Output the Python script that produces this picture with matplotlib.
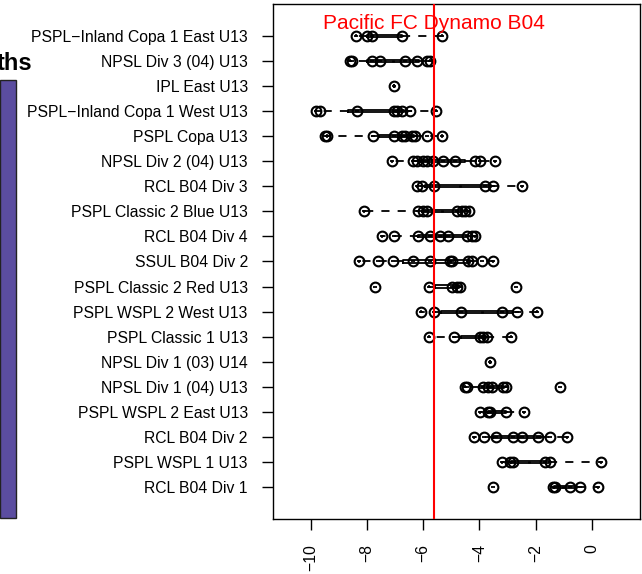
import matplotlib

matplotlib.use("Agg")
import matplotlib.pyplot as plt
from matplotlib.patches import Rectangle

plt.rcParams["font.family"] = ["Liberation Sans", "DejaVu Sans"]

# Leagues, top to bottom as drawn
leagues = [
    "PSPL\u2212Inland Copa 1 East U13",
    "NPSL Div 3 (04) U13",
    "IPL East U13",
    "PSPL\u2212Inland Copa 1 West U13",
    "PSPL Copa U13",
    "NPSL Div 2 (04) U13",
    "RCL B04 Div 3",
    "PSPL Classic 2 Blue U13",
    "RCL B04 Div 4",
    "SSUL B04 Div 2",
    "PSPL Classic 2 Red U13",
    "PSPL WSPL 2 West U13",
    "PSPL Classic 1 U13",
    "NPSL Div 1 (03) U14",
    "NPSL Div 1 (04) U13",
    "PSPL WSPL 2 East U13",
    "RCL B04 Div 2",
    "PSPL WSPL 1 U13",
    "RCL B04 Div 1",
]

# Team ratings per league (same order as leagues)
scores = [
    [-8.39, -8.01, -7.83, -6.76, -5.34],
    [-8.60, -8.52, -7.83, -7.53, -6.64, -6.23, -5.87, -5.75],
    [-7.04],
    [-9.81, -9.67, -8.34, -7.04, -6.94, -6.74, -6.47, -5.55],
    [-9.51, -9.43, -7.77, -7.04, -6.76, -6.64, -6.41, -6.29, -5.87, -5.34],
    [-7.12, -6.35, -6.23, -5.99, -5.87, -5.64, -5.28, -4.86, -4.15, -3.97, -3.44],
    [-6.23, -6.05, -5.61, -3.80, -3.50, -2.49],
    [-8.09, -6.17, -5.99, -5.87, -4.80, -4.63, -4.51, -4.36],
    [-7.47, -7.04, -6.17, -5.75, -5.40, -5.10, -4.45, -4.25, -4.15],
    [-8.27, -7.59, -7.06, -6.35, -5.75, -5.04, -4.98, -4.39, -4.27, -3.91, -3.52],
    [-7.71, -5.78, -4.98, -4.80, -4.69, -2.69],
    [-6.09, -5.61, -4.65, -3.18, -2.67, -1.94],
    [-5.78, -4.89, -3.97, -3.86, -3.74, -2.88],
    [-3.62],
    [-4.51, -4.45, -3.86, -3.68, -3.56, -3.15, -3.05, -1.13],
    [-3.97, -3.68, -3.62, -3.06, -2.41],
    [-4.19, -3.82, -3.41, -2.79, -2.49, -1.90, -1.48, -0.89],
    [-3.20, -2.91, -2.79, -1.66, -1.48, 0.32],
    [-3.50, -1.37, -1.31, -0.77, -0.42, 0.24],
]

team_name = "Pacific FC Dynamo B04"
team_score = -5.63

x_ticks = [-10, -8, -6, -4, -2, 0]

n = len(leagues)
positions = [n - i for i in range(n)]

fig = plt.figure(figsize=(6.42, 5.74), dpi=100)
ax = fig.add_axes([0.425, 0.096, 0.572, 0.897])

ax.boxplot(
    scores,
    positions=positions,
    orientation="horizontal",
    widths=0.09,
    whis=1.5,
    showfliers=False,
    boxprops=dict(color="black", linewidth=1.3),
    whiskerprops=dict(color="black", linewidth=1.3, linestyle=(0, (4.5, 4.5))),
    capprops=dict(color="black", linewidth=1.3),
    capwidths=0.04,
    medianprops=dict(color="black", linewidth=2),
)

for pos, vals in zip(positions, scores):
    ax.plot(vals, [pos] * len(vals), "o", mfc="none", mec="black",
            ms=7, mew=1.5, zorder=3)
    ax.plot(vals, [pos] * len(vals), "_", color="black", ms=3.5, mew=1.3, zorder=3)

ax.axvline(team_score, color="red", linewidth=1.5, zorder=4)
ax.text(team_score, 19.5, team_name, color="red", fontsize=15,
        ha="center", va="center", zorder=5)

ax.set_xlim(-11.35, 1.72)
ax.set_ylim(-0.26, 20.26)
ax.set_yticks(positions)
ax.set_yticklabels(leagues, fontsize=11.3)
ax.set_xticks(x_ticks)
ax.set_xticklabels([str(t).replace("-", "\u2212") for t in x_ticks],
                   rotation=90, fontsize=11.3)
ax.tick_params(axis="both", length=8, width=1, pad=10)
for sp in ax.spines.values():
    sp.set_linewidth(1)

# bits of the neighbouring page caught in the screenshot
fig.patches.append(Rectangle((0, 56 / 574), 16 / 642, 438 / 574,
                             transform=fig.transFigure, facecolor="#5b4da0",
                             edgecolor="#222222", linewidth=1))
fig.text(32 / 642, 1 - 70 / 574, "ths", fontsize=17, fontweight="bold",
         ha="right", va="baseline")

fig.savefig("out.png", dpi=100)
